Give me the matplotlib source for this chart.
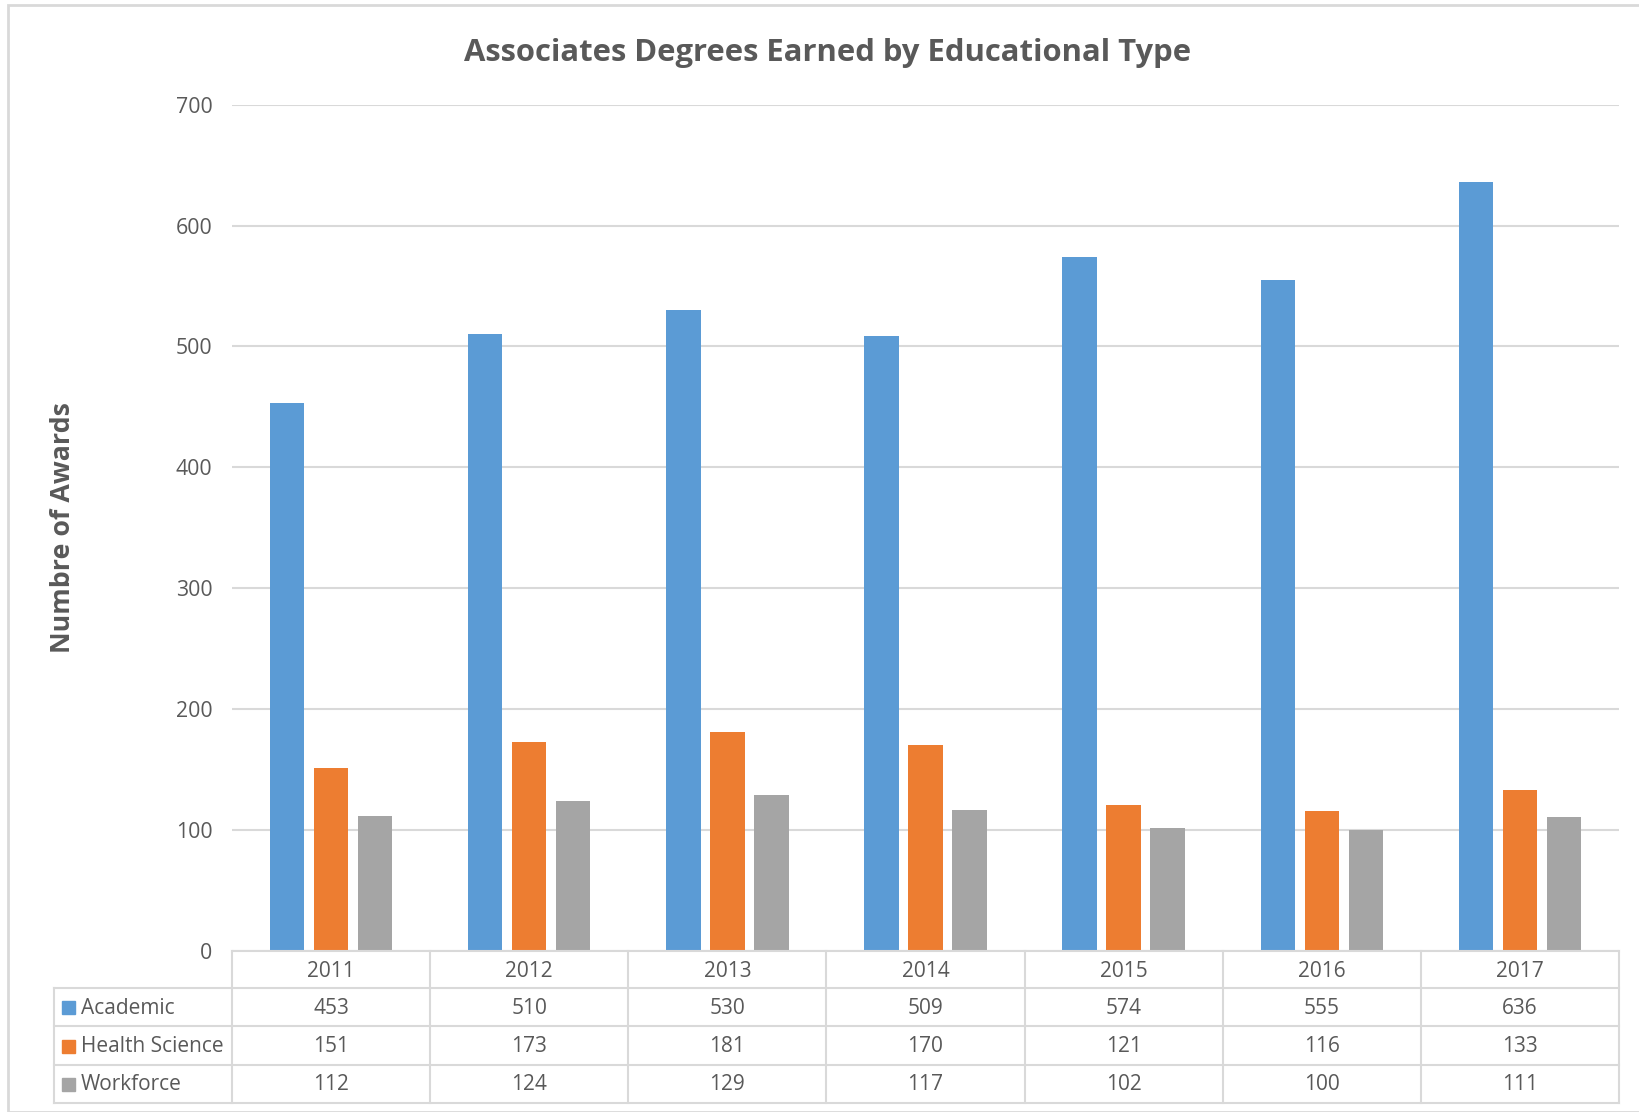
import matplotlib
matplotlib.use("Agg")
import matplotlib.pyplot as plt
import numpy as np
from matplotlib.lines import Line2D
from matplotlib.patches import Rectangle
from matplotlib import transforms

years = ["2011", "2012", "2013", "2014", "2015", "2016", "2017"]
series_names = ["Academic", "Health Science", "Workforce"]
academic = [453, 510, 530, 509, 574, 555, 636]
health_science = [151, 173, 181, 170, 121, 116, 133]
workforce = [112, 124, 129, 117, 102, 100, 111]
colors = ["#5B9BD5", "#ED7D31", "#A5A5A5"]
yticks = [0, 100, 200, 300, 400, 500, 600, 700]

plt.rcParams['font.family'] = ['Open Sans', 'DejaVu Sans']
TXT = "#595959"
GRID = "#D9D9D9"
W, H = 1640, 1112
FS = 15

fig = plt.figure(figsize=(W / 100, H / 100), dpi=100)

def fx(px):
    return px / W

def fy(py):
    return 1 - py / H

left, right, top, bottom = 232, 1619, 104.6, 951
ax = fig.add_axes([fx(left), fy(bottom), fx(right - left), (bottom - top) / H])

data = [academic, health_science, workforce]
x = np.arange(len(years))
bw = 0.174
step = 0.222
for i, (vals, c) in enumerate(zip(data, colors)):
    ax.bar(x + (i - 1) * step, vals, width=bw, color=c, zorder=3)

ax.set_xlim(-0.5, len(years) - 0.5)
ax.set_ylim(0, 700)
ax.set_yticks(yticks)
ax.set_yticklabels([str(t) for t in yticks], fontsize=FS + 0.3, color=TXT)
ax.set_xticks([])
ax.tick_params(axis='y', length=0, pad=14)
ax.yaxis.grid(True, color=GRID, lw=1.5, zorder=0)
for s in ax.spines.values():
    s.set_visible(False)

fig.text(fx(63), fy(528), "Numbre of Awards", rotation=90, ha='center', va='center',
         fontsize=19.3, fontweight='bold', color=TXT)

fig.text(fx(828), fy(53), "Associates Degrees Earned by Educational Type",
         ha='center', va='center', fontsize=22.3, fontweight='bold', color=TXT)

# Data table
row_y = [951, 988, 1026, 1065, 1103]
tleft = 54
bt = transforms.blended_transform_factory(ax.transData, fig.transFigure)
lw = 1.5
fig.add_artist(Line2D([fx(left), fx(right)], [fy(row_y[0])] * 2, color=GRID, lw=lw))
for yy in row_y[1:]:
    fig.add_artist(Line2D([fx(tleft), fx(right)], [fy(yy)] * 2, color=GRID, lw=lw))
for k in range(len(years) + 1):
    fig.add_artist(Line2D([k - 0.5, k - 0.5], [fy(row_y[0]), fy(row_y[-1])],
                          transform=bt, color=GRID, lw=lw))
fig.add_artist(Line2D([fx(tleft)] * 2, [fy(row_y[1]), fy(row_y[-1])], color=GRID, lw=lw))

for i, yr in enumerate(years):
    fig.text(i, fy((row_y[0] + row_y[1]) / 2 + 2), yr, transform=bt, ha='center', va='center',
             fontsize=FS, color=TXT)
for r, (name, vals, c) in enumerate(zip(series_names, data, colors)):
    yc = (row_y[r + 1] + row_y[r + 2]) / 2
    fig.add_artist(Rectangle((fx(62), fy(yc + 7)), fx(13), 13 / H, color=c, transform=fig.transFigure))
    fig.text(fx(81), fy(yc + 1), name, ha='left', va='center', fontsize=FS, color=TXT)
    for i, v in enumerate(vals):
        fig.text(i, fy(yc + 1), str(v), transform=bt, ha='center', va='center',
                 fontsize=FS, color=TXT)

fig.add_artist(Rectangle((fx(8), fy(1112)), fx(1640), (1112 - 5) / H, fill=False,
                         edgecolor=GRID, lw=2, transform=fig.transFigure))

fig.savefig("out.png", dpi=100, facecolor="white")
